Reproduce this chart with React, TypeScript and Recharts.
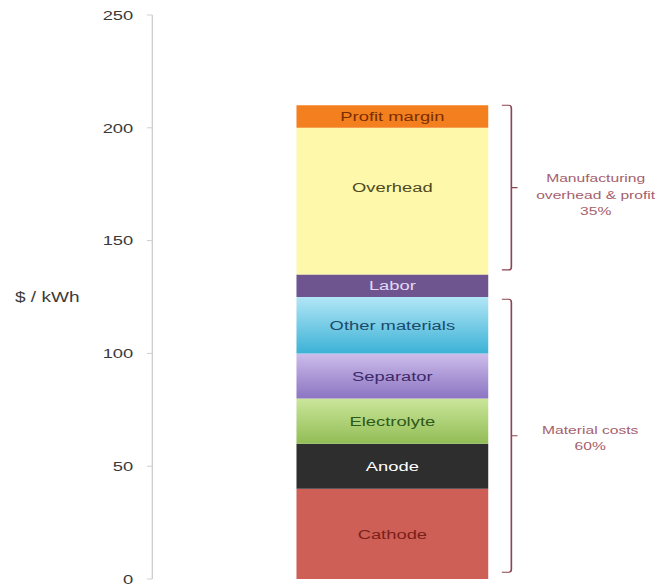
import React from 'react';
import { BarChart, Bar, XAxis, YAxis, LabelList, ReferenceLine, ReferenceDot } from 'recharts';

// cost components, bottom to top ($/kWh)
const components = ['Cathode', 'Anode', 'Electrolyte', 'Separator', 'Other materials', 'Labor', 'Overhead', 'Profit margin'];
const values = [40, 20, 20, 20, 25, 10, 65, 10];
const fills = ['#cd5f57', '#2e2e2e', 'url(#gElec)', 'url(#gSep)', 'url(#gOther)', '#6e5590', '#fdf8aa', '#f47f1f'];
const textColors = ['#7a1f1a', '#ffffff', '#2e5a1a', '#3d2a6a', '#1c4a6a', '#e4d8f6', '#4f4a20', '#7a2e00'];
const labelDy = [0, 0, 0, 0, 0, 0, -14, 0];
const yTicks = [0, 50, 100, 150, 200, 250];

// bracket annotations
const bracketRanges = [[137, 210], [3, 124]];
const bracketTexts = [['Manufacturing', 'overhead & profit', '35%'], ['Material costs', '60%']];

const row: Record<string, number | string> = { name: 'cost' };
components.forEach((c, i) => { row[c] = values[i]; });
const data = [row];

const FONT = '"Liberation Sans", Arial, sans-serif';
const bracketColor = '#8a4452';
const noteColor = '#a5606c';

// the original picture is stretched sideways, so the chart is too
const STRETCH = 1.36;

// pixel offsets of the annotations from the bar centre (before stretch)
const BRACKET_DX = 88;
const TEXT_DX = [150, 146];
const TEXT_DY = [7, 2];

const Bracket = (p: any) => {
  const x = p.x1 + BRACKET_DX;
  const top = Math.min(p.y1, p.y2);
  const bot = Math.max(p.y1, p.y2);
  const mid = (top + bot) / 2;
  const d = `M ${x - 7} ${top} L ${x - 2} ${top} Q ${x} ${top} ${x} ${top + 3} L ${x} ${bot - 3} Q ${x} ${bot} ${x - 2} ${bot} L ${x - 7} ${bot} M ${x} ${mid} L ${x + 4.5} ${mid}`;
  return <path d={d} fill="none" stroke={bracketColor} strokeWidth={1.2} />;
};

const App: React.FC = () => {
  return (
    <div style={{ position: 'absolute', left: 0, top: 0, background: '#fff', transform: `scaleX(${STRETCH})`, transformOrigin: '0 0' }}>
      <BarChart width={484} height={587} data={data} margin={{ top: 15, right: 32, bottom: 8, left: 0 }}>
        <defs>
          <linearGradient id="gElec" x1="0" y1="0" x2="0" y2="1">
            <stop offset="0%" stopColor="#cbe69a" />
            <stop offset="100%" stopColor="#92bd56" />
          </linearGradient>
          <linearGradient id="gSep" x1="0" y1="0" x2="0" y2="1">
            <stop offset="0%" stopColor="#cdbdeb" />
            <stop offset="100%" stopColor="#8c74c2" />
          </linearGradient>
          <linearGradient id="gOther" x1="0" y1="0" x2="0" y2="1">
            <stop offset="0%" stopColor="#b2e6f6" />
            <stop offset="100%" stopColor="#3cb2d6" />
          </linearGradient>
        </defs>
        <XAxis dataKey="name" tick={false} tickLine={false} height={0} axisLine={{ stroke: '#cfcfcf' }} padding={{ left: 12, right: 0 }} />
        <YAxis
          domain={[0, 250]}
          ticks={yTicks}
          width={112}
          tickSize={4}
          tickMargin={10}
          axisLine={{ stroke: '#cfcfcf' }}
          tickLine={{ stroke: '#cfcfcf' }}
          tick={{ fill: '#3a3a3a', fontSize: 13.5, fontFamily: FONT }}
          label={{ value: '$ / kWh', position: 'insideLeft', offset: 11, fill: '#3a3a3a', fontSize: 14, fontFamily: FONT }}
        />
        {components.map((c, i) => (
          <Bar key={c} dataKey={c} stackId="a" fill={fills[i]} barSize={141} isAnimationActive={false}>
            <LabelList
              dataKey={c}
              content={(p: any) => (
                <text
                  x={p.x + p.width / 2}
                  y={p.y + p.height / 2 + labelDy[i]}
                  dy="0.35em"
                  textAnchor="middle"
                  fill={textColors[i]}
                  fontSize={13.5}
                  fontFamily={FONT}
                >
                  {c}
                </text>
              )}
            />
          </Bar>
        ))}
        {bracketRanges.map(([lo, hi], i) => (
          <ReferenceLine
            key={'b' + i}
            segment={[{ x: 'cost', y: lo }, { x: 'cost', y: hi }]}
            ifOverflow="visible"
            shape={Bracket}
          />
        ))}
        {bracketRanges.map(([lo, hi], i) => (
          <ReferenceDot
            key={'t' + i}
            x="cost"
            y={(lo + hi) / 2}
            r={0}
            ifOverflow="visible"
            shape={(p: any) => {
              const lines = bracketTexts[i];
              const lh = 16.5;
              const cx = p.cx + TEXT_DX[i];
              const y0 = p.cy + TEXT_DY[i] - ((lines.length - 1) * lh) / 2;
              return (
                <text x={cx} y={y0} textAnchor="middle" fill={noteColor} fontSize={11.5} fontFamily={FONT}>
                  {lines.map((t, k) => (
                    <tspan key={k} x={cx} dy={k === 0 ? '0.35em' : lh}>{t}</tspan>
                  ))}
                </text>
              );
            }}
          />
        ))}
      </BarChart>
    </div>
  );
};

export default App;
